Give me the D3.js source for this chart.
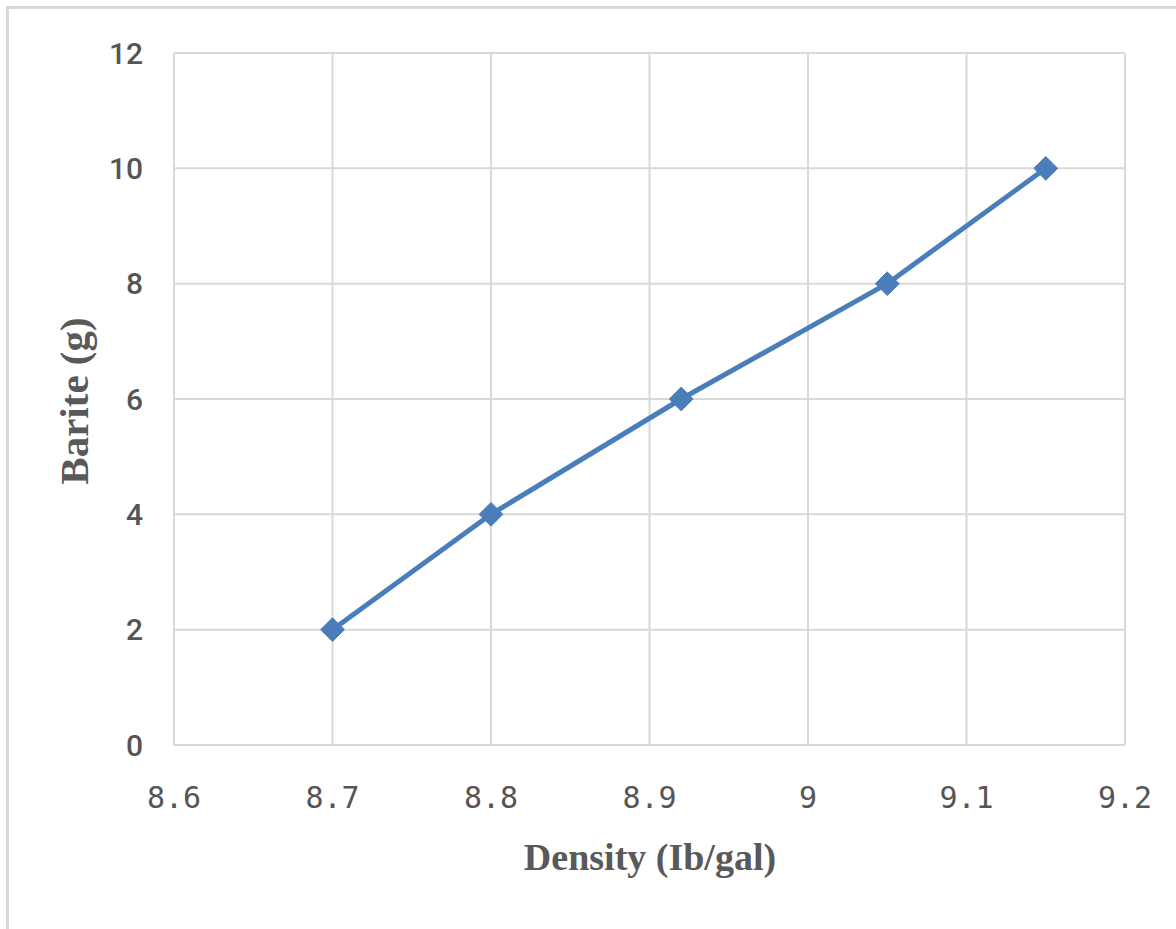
<!DOCTYPE html>
<html lang="en">
<head>
    <meta charset="UTF-8">
    <title>Barite vs Density</title>
    <script src="https://d3js.org/d3.v7.min.js"></script>
    <style>
        body { margin: 0; background: #fff; }
        .ytick { font-family: Roboto, "Open Sans", sans-serif; font-size: 30px; font-weight: 500; fill: #555; }
        .xtick { font-family: "DejaVu Sans Mono", "Liberation Mono", monospace; font-size: 30px; fill: #555; }
        .title { font-family: "Liberation Serif", "Times New Roman", serif; font-weight: bold; fill: #595959; }
    </style>
</head>
<body>
    <svg id="chart" width="1176" height="929"></svg>
    <script>
        // data
        const density = [8.7, 8.8, 8.92, 9.05, 9.15];
        const barite = [2, 4, 6, 8, 10];
        const xTicks = [8.6, 8.7, 8.8, 8.9, 9, 9.1, 9.2];
        const yTicks = [0, 2, 4, 6, 8, 10, 12];

        const svg = d3.select("#chart");
        const margin = { left: 174, top: 53, right: 51, bottom: 184 };
        const W = 1176, H = 929;

        const x = d3.scaleLinear().domain([8.6, 9.2]).range([margin.left, W - margin.right]);
        const y = d3.scaleLinear().domain([0, 12]).range([H - margin.bottom, margin.top]);

        // outer frame (only top and left visible in the crop)
        svg.append("rect")
            .attr("x", 7.5).attr("y", 7.5)
            .attr("width", 1300).attr("height", 1300)
            .attr("fill", "none")
            .attr("stroke", "#d9d9d9")
            .attr("stroke-width", 3);

        // grid
        svg.append("g")
            .selectAll("line")
            .data(xTicks)
            .join("line")
            .attr("x1", d => x(d)).attr("x2", d => x(d))
            .attr("y1", y(0)).attr("y2", y(12))
            .attr("stroke", "#d9d9d9").attr("stroke-width", 2);

        svg.append("g")
            .selectAll("line")
            .data(yTicks)
            .join("line")
            .attr("x1", x(8.6)).attr("x2", x(9.2))
            .attr("y1", d => y(d)).attr("y2", d => y(d))
            .attr("stroke", "#d9d9d9").attr("stroke-width", 2);

        // tick labels
        svg.append("g")
            .selectAll("text")
            .data(yTicks)
            .join("text")
            .attr("class", "ytick")
            .attr("x", x(8.6) - 31)
            .attr("y", d => y(d))
            .attr("dy", "0.36em")
            .attr("text-anchor", "end")
            .text(d => d);

        svg.append("g")
            .selectAll("text")
            .data(xTicks)
            .join("text")
            .attr("class", "xtick")
            .attr("x", d => x(d))
            .attr("y", y(0) + 63)
            .attr("text-anchor", "middle")
            .text(d => d);

        // axis titles
        svg.append("text")
            .attr("class", "title")
            .attr("x", 650).attr("y", 870)
            .attr("text-anchor", "middle")
            .style("font-size", "38px")
            .text("Density (Ib/gal)");

        svg.append("text")
            .attr("class", "title")
            .attr("transform", "translate(88,401) rotate(-90)")
            .attr("text-anchor", "middle")
            .style("font-size", "41px")
            .text("Barite (g)");

        // series
        const pts = density.map((d, i) => [d, barite[i]]);

        svg.append("path")
            .datum(pts)
            .attr("fill", "none")
            .attr("stroke", "#4a7ebb")
            .attr("stroke-width", 5)
            .attr("stroke-linejoin", "round")
            .attr("d", d3.line().x(d => x(d[0])).y(d => y(d[1])));

        svg.append("g")
            .selectAll("path")
            .data(pts)
            .join("path")
            .attr("fill", "#4a7ebb")
            .attr("stroke", "#4a7ebb")
            .attr("stroke-width", 1)
            .attr("d", d3.symbol().type(d3.symbolDiamond2).size(360))
            .attr("transform", d => `translate(${x(d[0])},${y(d[1])})`);
    </script>
</body>
</html>
